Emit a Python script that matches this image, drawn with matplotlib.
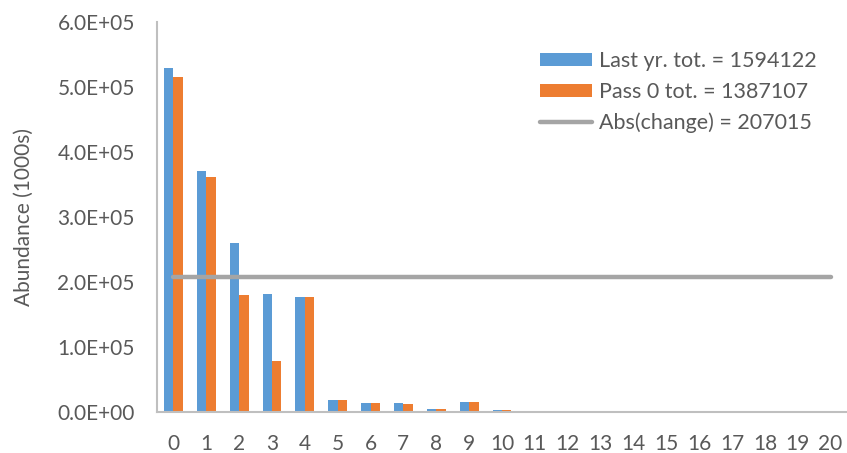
import matplotlib
matplotlib.use("Agg")
import matplotlib.pyplot as plt
import numpy as np
from matplotlib.ticker import FuncFormatter

# Age classes and abundance by age (1000s)
ages = list(range(21))
last_year = [529000, 371000, 260000, 182000, 176500, 18500, 14200, 13200, 4800, 16000,
             2600, 2100, 1000, 600, 400, 300, 200, 150, 100, 100, 50]
pass0 = [515200, 361800, 179500, 78500, 176500, 18300, 14000, 12900, 4700, 15700,
         2500, 2000, 1000, 600, 400, 300, 200, 150, 100, 100, 50]
abs_change = 207015

labels = ["Last yr. tot. = 1594122", "Pass 0 tot. = 1387107", "Abs(change) = 207015"]
yticks = [0, 1e5, 2e5, 3e5, 4e5, 5e5, 6e5]

BLUE = "#5B9BD5"
ORANGE = "#ED7D31"
GRAY = "#A5A5A5"
TEXT = "#595959"
AXIS = "#BFBFBF"

plt.rcParams["font.family"] = ["Lato", "DejaVu Sans"]

fig = plt.figure(figsize=(8.47, 4.53), dpi=100)
ax = fig.add_axes([157 / 847, 41 / 453, 690 / 847, 390 / 453])

x = np.arange(len(ages))
w = 0.285
b1 = ax.bar(x - w / 2, last_year, width=w, color=BLUE, label=labels[0])
b2 = ax.bar(x + w / 2, pass0, width=w, color=ORANGE, label=labels[1])
ln, = ax.plot([x[0], x[-1]], [abs_change, abs_change], color=GRAY, lw=3.2,
              solid_capstyle="round", label=labels[2])

ax.set_xlim(-0.5, 20.5)
ax.set_ylim(0, 6e5)
ax.set_yticks(yticks)
ax.yaxis.set_major_formatter(FuncFormatter(lambda v, p: f"{v:.1E}"))
ax.set_xticks(x)
ax.set_xticklabels([str(a) for a in ages])

for s in ["top", "right"]:
    ax.spines[s].set_visible(False)
for s in ["left", "bottom"]:
    ax.spines[s].set_color(AXIS)
    ax.spines[s].set_linewidth(1.5)

ax.tick_params(axis="both", length=0, colors=TEXT, labelsize=15)
ax.tick_params(axis="y", pad=16)
ax.tick_params(axis="x", pad=16)

ax.set_ylabel("Abundance (1000s)", color=TEXT, fontsize=15, labelpad=17)

leg = ax.legend(handles=[b1, b2, ln], loc="upper left", bbox_to_anchor=(0.555, 0.925),
                frameon=False, fontsize=15.5, labelcolor=TEXT,
                borderpad=0, borderaxespad=0,
                handlelength=2.4, handleheight=0.56, handletextpad=0.33,
                labelspacing=0.49)

fig.savefig("out.png", dpi=100)
